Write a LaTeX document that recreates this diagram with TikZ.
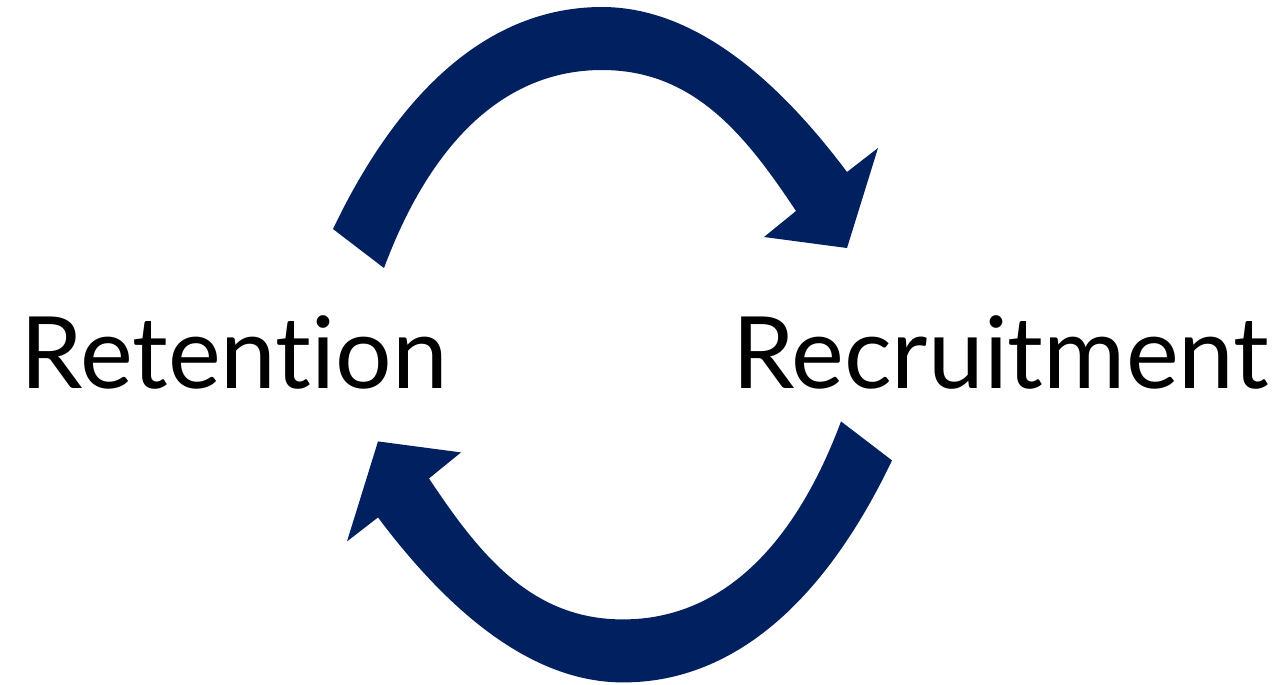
\documentclass[tikz,border=0pt]{standalone}
\usepackage{fontspec}
\setmainfont{Lato}[Ligatures=NoCommon]
\usepackage{xcolor}
\definecolor{navy}{RGB}{0,32,96}
\tikzset{
  label text/.style={inner sep=0pt,font=\fontsize{28.4}{34}\selectfont}
}

\begin{document}
\begin{tikzpicture}[x=0.01cm,y=-0.01cm]
        \useasboundingbox (0,0) rectangle (1279,684);

        % the two curved arrows, the lower one is the upper turned half round
        \foreach \ang in {0,180} {
          \fill[navy,rotate around={\ang:(612.5,344.7)}] (333,229)
            .. controls (397.5,94) and (487,7) .. (602,7)
            .. controls (702,7) and (787,92) .. (847,172)
            -- (878,148) -- (847,248) -- (764,237) -- (796,211)
            .. controls (743.75,132) and (692,70) .. (602,70)
            .. controls (502,70) and (429.5,145.8) .. (384,268) -- cycle;
        }

        \node[label text,anchor=base west] (retention) at (20,388) {Retention};
        \node[label text,anchor=base east] (recruitment) at (1270,388) {Recruitment};
      \end{tikzpicture}
\end{document}
